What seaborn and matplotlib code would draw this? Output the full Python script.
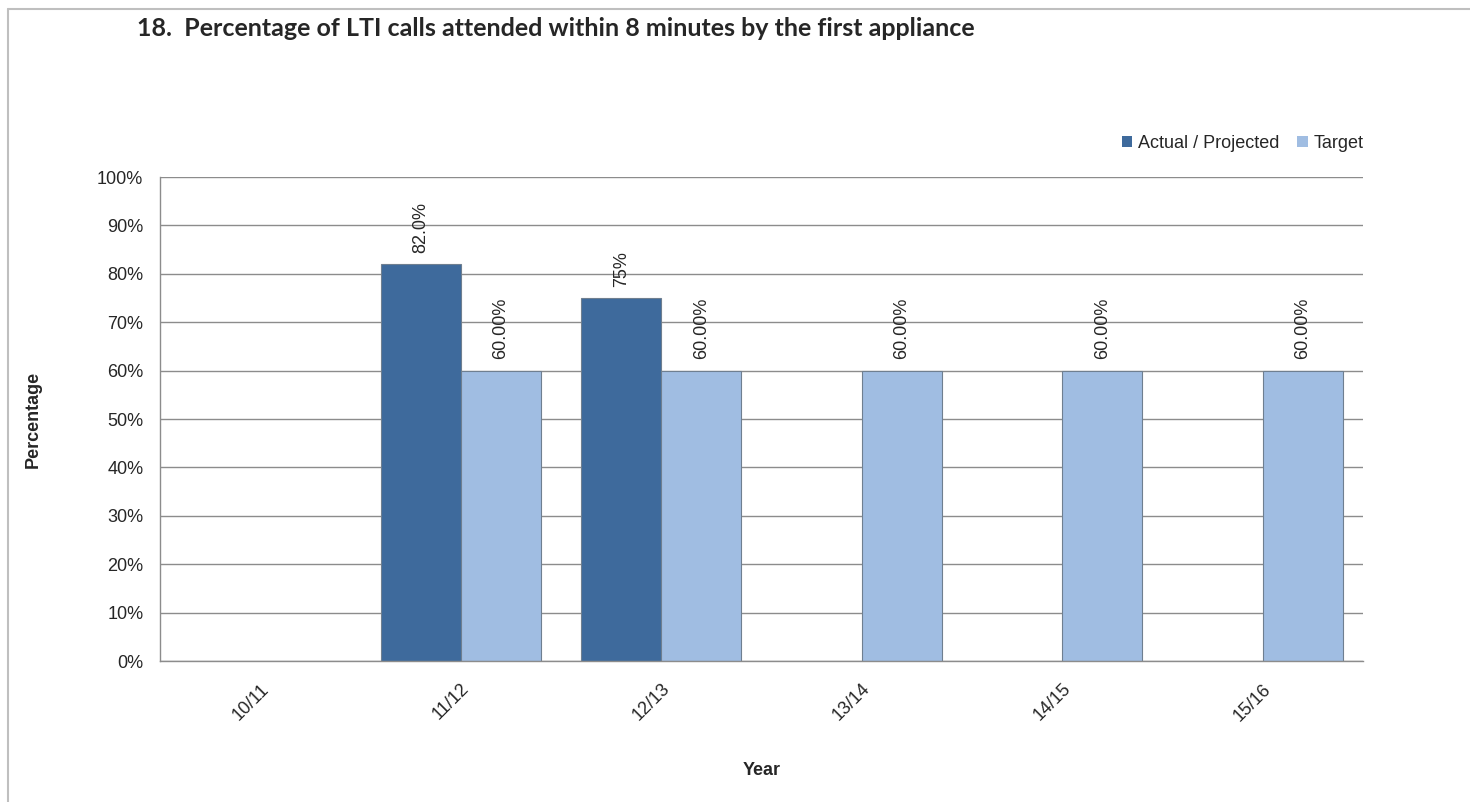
import numpy as np
import pandas as pd
import matplotlib
matplotlib.use("Agg")
import matplotlib.pyplot as plt
import seaborn as sns
from matplotlib.patches import Rectangle
from matplotlib.lines import Line2D

categories = ["10/11", "11/12", "12/13", "13/14", "14/15", "15/16"]
actual = [np.nan, 82.0, 75.0, np.nan, np.nan, np.nan]
target = [np.nan, 60.0, 60.0, 60.0, 60.0, 60.0]
actual_labels = ["", "82.0%", "75%", "", "", ""]
target_labels = ["", "60.00%", "60.00%", "60.00%", "60.00%", "60.00%"]
series_names = ["Actual / Projected", "Target"]
colors = ["#3e6a9c", "#a0bde2"]
yticks = [0, 10, 20, 30, 40, 50, 60, 70, 80, 90, 100]

df = pd.DataFrame({
    "Year": categories * 2,
    "Value": actual + target,
    "Series": [series_names[0]] * len(categories) + [series_names[1]] * len(categories),
})

sns.set_theme(style="white")
plt.rcParams["font.family"] = ["Liberation Sans", "DejaVu Sans"]

fig = plt.figure(figsize=(14.7, 8.02), dpi=100)
ax = fig.add_axes([160 / 1470, 1 - 661 / 802, (1363 - 160) / 1470, (661 - 177) / 802])

sns.barplot(data=df, x="Year", y="Value", hue="Series", order=categories,
            hue_order=series_names, palette=colors, width=0.8, ax=ax,
            edgecolor="#6f7f90", linewidth=0.8, legend=False, saturation=1)

ax.set_ylim(0, 100)
ax.set_xlim(-0.5, len(categories) - 0.5)
ax.set_yticks(yticks)
ax.set_yticklabels([f"{v}%" for v in yticks], fontsize=13)
ax.yaxis.grid(True, color="#8c8c8c", linewidth=1)
ax.set_axisbelow(True)

ax.set_xticks(range(len(categories)))
ax.set_xticklabels(categories, rotation=45, fontsize=13, ha="right", rotation_mode="anchor")
ax.set_xticks(np.arange(-0.5, len(categories)), minor=True)
ax.tick_params(axis="x", which="major", length=0, pad=14)
ax.tick_params(axis="x", which="minor", length=6, color="#8c8c8c", direction="out", width=1)
ax.tick_params(axis="y", length=6, color="#8c8c8c", direction="out", width=1, pad=6)

for s in ["top", "right"]:
    ax.spines[s].set_visible(False)
for s in ["left", "bottom"]:
    ax.spines[s].set_color("#8c8c8c")
    ax.spines[s].set_linewidth(1)

# data labels
for container, labels in zip(ax.containers, [actual_labels, target_labels]):
    lbls = [l for l in labels if l != ""]
    ax.bar_label(container, labels=lbls if len(lbls) == len(container) else None,
                 rotation=90, fontsize=13, padding=8)

ax.set_xlabel("Year", fontsize=13, fontweight="bold", labelpad=27)
ax.set_ylabel("Percentage", fontsize=13, fontweight="bold")
ax.yaxis.set_label_coords((42 - 160) / 1203, 0.5)

fig.text(137 / 1470, 1 - 28 / 802, "18.  Percentage of LTI calls attended within 8 minutes by the first appliance",
         fontsize=18, fontweight="bold", family=["Lato", "DejaVu Sans"], ha="left", va="center")

handles = [Rectangle((0, 0), 1, 1, facecolor=c, edgecolor="none") for c in colors]
ax.legend(handles, series_names, loc="center right", bbox_to_anchor=(1.014, 1.07),
          ncol=2, frameon=False, fontsize=13, handlelength=0.6, handleheight=0.6,
          handletextpad=0.3, columnspacing=1.0)

# outer chart border (top and left visible)
fig.add_artist(Line2D([8 / 1470, 1.0], [1 - 9 / 802, 1 - 9 / 802], transform=fig.transFigure,
                      color="#bfbfbf", linewidth=1.5))
fig.add_artist(Line2D([8 / 1470, 8 / 1470], [1 - 9 / 802, 0.0], transform=fig.transFigure,
                      color="#bfbfbf", linewidth=1.5))

fig.savefig("out.png", dpi=100)
